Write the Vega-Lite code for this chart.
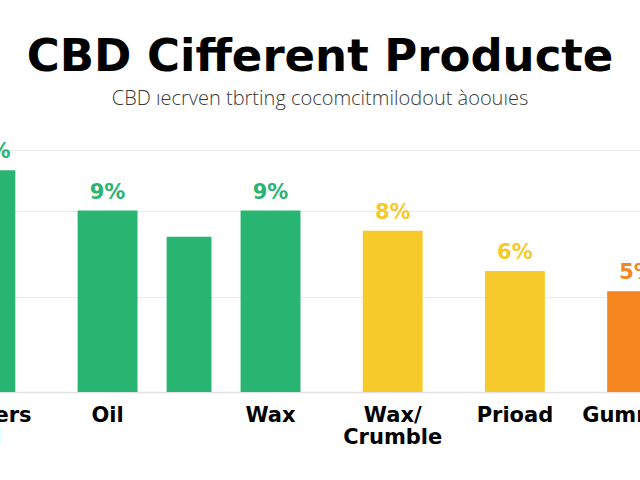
{
  "$schema": "https://vega.github.io/schema/vega-lite/v6.json",
  "width": 640,
  "height": 242,
  "autosize": {"type": "none"},
  "padding": {"top": 150, "left": 0, "right": 0, "bottom": 88},
  "background": "#ffffff",
  "title": {
    "text": "CBD Cifferent Producte",
    "subtitle": "CBD ıecrven tbrting cocomcitmilodout àoouıes",
    "anchor": "middle",
    "frame": "group",
    "font": "DejaVu Sans",
    "fontSize": 45,
    "fontWeight": "bold",
    "color": "#000000",
    "subtitleFont": "Open Sans",
    "subtitleFontSize": 20,
    "subtitleFontWeight": 300,
    "subtitleColor": "#3a3a3a",
    "subtitlePadding": 9,
    "offset": 32
  },
  "data": {
    "values": [
      {"product": "Flowers Oil", "share": 0.11},
      {"product": "Oil", "share": 0.09},
      {"product": "_Vape", "share": 0.077},
      {"product": "Wax", "share": 0.09},
      {"product": "Wax/ Crumble", "share": 0.08},
      {"product": "Prioad", "share": 0.06},
      {"product": "Gummies", "share": 0.05}
    ]
  },
  "encoding": {
    "x": {
      "field": "product",
      "type": "nominal",
      "sort": null,
      "scale": {
        "domain": ["Flowers Oil", "_1", "_2", "Oil", "_4", "_Vape", "_6", "Wax", "_8", "_9", "Wax/ Crumble", "_11", "_12", "Prioad", "_14", "_15", "Gummies"],
        "range": [-35, 657.5],
        "paddingInner": 0,
        "paddingOuter": 0
      },
      "axis": {
        "title": null,
        "ticks": false,
        "domainColor": "#e2e2e2",
        "domainWidth": 1.5,
        "labelAngle": 0,
        "labelFont": "DejaVu Sans",
        "labelFontWeight": "bold",
        "labelFontSize": 21,
        "labelColor": "#000000",
        "labelPadding": 12,
        "labelLineHeight": 22,
        "labelBaseline": "top",
        "labelOverlap": false,
        "labelBound": false,
        "labelFlush": false,
        "labelExpr": "test(/^_/, datum.value) ? '' : split(datum.value, ' ')"
      }
    },
    "y": {
      "field": "share",
      "type": "quantitative",
      "scale": {"domain": [0, 0.12], "nice": false},
      "axis": {
        "title": null,
        "labels": false,
        "ticks": false,
        "domain": false,
        "values": [0.047, 0.09, 0.12],
        "gridColor": "#ebebeb",
        "gridWidth": 1.2
      }
    },
    "color": {
      "field": "product",
      "type": "nominal",
      "legend": null,
      "scale": {
        "domain": ["Flowers Oil", "Oil", "_Vape", "Wax", "Wax/ Crumble", "Prioad", "Gummies"],
        "range": ["#28b571", "#28b571", "#28b571", "#28b571", "#f6ca2b", "#f6ca2b", "#f5851e"]
      }
    }
  },
  "layer": [
    {
      "transform": [{"filter": "datum.product != '_Vape'"}],
      "mark": {"type": "bar", "width": {"band": 1.47}}
    },
    {
      "transform": [{"filter": "datum.product == '_Vape'"}],
      "mark": {"type": "bar", "width": {"band": 1.1}}
    },
    {
      "transform": [{"filter": "datum.product != '_Vape'"}],
      "mark": {"type": "text", "baseline": "bottom", "dy": -8, "font": "DejaVu Sans", "fontWeight": "bold", "fontSize": 21},
      "encoding": {
        "text": {"field": "share", "type": "quantitative", "format": ".0%"},
        "color": {
          "field": "product",
          "type": "nominal",
          "legend": null,
          "scale": {
            "domain": ["Flowers Oil", "Oil", "_Vape", "Wax", "Wax/ Crumble", "Prioad", "Gummies"],
            "range": ["#1c9a5c", "#1c9a5c", "#1c9a5c", "#1c9a5c", "#f0c21f", "#f0c21f", "#ee7c12"]
          }
        }
      }
    }
  ],
  "config": {"view": {"stroke": null}}
}
